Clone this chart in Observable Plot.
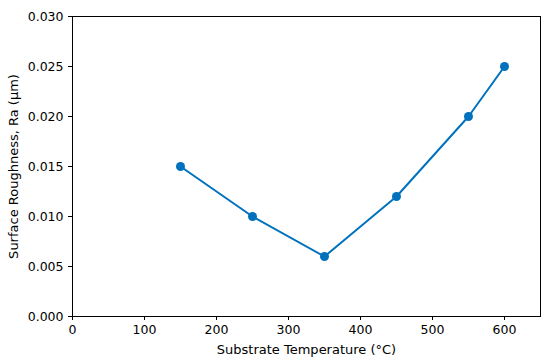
<!DOCTYPE html>
<html>
<head>
<meta charset="utf-8">
<script src="https://cdn.jsdelivr.net/npm/d3@7"></script>
<script src="https://cdn.jsdelivr.net/npm/@observablehq/plot@0.6"></script>
<style>
  html, body { margin: 0; padding: 0; background: #fff; }
  svg { font-family: "DejaVu Sans", sans-serif; }
</style>
</head>
<body>
<div id="chart"></div>
<script>
const temperatures = [150, 250, 350, 450, 550, 600];
const roughness = [0.015, 0.010, 0.006, 0.012, 0.020, 0.025];
const xTicks = [0, 100, 200, 300, 400, 500, 600];
const yTicks = [0, 0.005, 0.010, 0.015, 0.020, 0.025, 0.030];

const data = temperatures.map((t, i) => ({t, r: roughness[i]}));
const color = "#0072bd";

const chart = Plot.plot({
  width: 550,
  height: 361,
  marginLeft: 72,
  marginRight: 10,
  marginTop: 16,
  marginBottom: 45,
  style: {fontFamily: "DejaVu Sans, sans-serif", fontSize: "12.5px", color: "#000", background: "#fff"},
  x: {domain: [0, 650]},
  y: {domain: [0, 0.03]},
  marks: [
    Plot.frame({stroke: "#000", strokeWidth: 1}),
    Plot.axisX({ticks: xTicks, tickSize: 4, tickPadding: 5, tickFormat: d3.format("d"), fontSize: 12.5, label: null}),
    Plot.axisX({ticks: [], label: "Substrate Temperature (°C)", labelAnchor: "center", labelArrow: "none", labelOffset: 37, fontSize: 13}),
    Plot.axisY({ticks: yTicks, tickSize: 4, tickPadding: 5, tickFormat: d3.format(".3f"), fontSize: 12.5, label: null}),
    Plot.axisY({ticks: [], label: "Surface Roughness, Ra (μm)", labelAnchor: "center", labelArrow: "none", labelOffset: 64, fontSize: 13}),
    Plot.line(data, {x: "t", y: "r", stroke: color, strokeWidth: 2}),
    Plot.dot(data, {x: "t", y: "r", fill: color, r: 4.5})
  ]
});
document.getElementById("chart").appendChild(chart);
</script>
</body>
</html>
